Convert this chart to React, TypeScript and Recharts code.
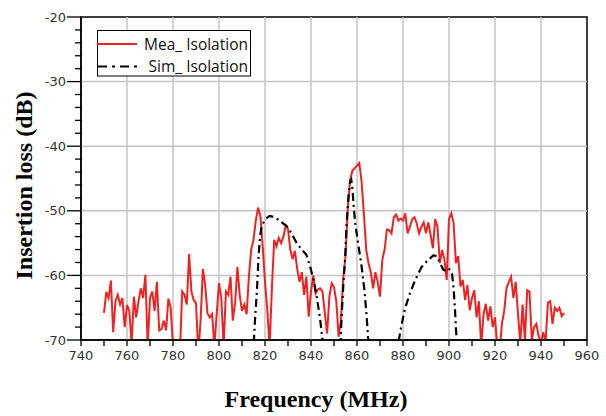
import React from 'react';
import { LineChart, Line, XAxis, YAxis, Legend, Label, ReferenceLine, ReferenceArea } from 'recharts';

// Measured isolation, sampled every 1 MHz from 750 MHz
const MEA_START = 750;
const MEA_STEP = 1;
const meaValues: number[] = [
  -65.8, -62.6, -63.5, -60.8, -68.8, -64, -63, -64.5, -63.5, -68,
  -64.6, -65.5, -70.5, -63.3, -66.5, -64, -62, -63.5, -59.9, -71,
  -63.5, -62.5, -65.5, -61, -68.5, -68.3, -67, -68.5, -63.6, -65,
  -71, -73, -73, -72, -62.5, -63, -64.5, -56.7, -62.5, -63.8,
  -64.3, -72, -67, -59, -61.5, -65.9, -66.5, -66, -71, -66,
  -61.2, -63.5, -71, -62.5, -63, -60.2, -67, -64.3, -58.7, -63,
  -65.5, -64.5, -66, -60.2, -56, -54.5, -51.5, -49.5, -50.8, -55.5,
  -61, -65.3, -71, -62, -54.5, -55.5, -54.2, -55, -54, -52.3,
  -52.8, -56, -57.5, -56.2, -59, -61, -59.5, -63, -60.2, -66.4,
  -62.5, -60, -62.8, -62.2, -62, -62.5, -65.8, -69, -63.3, -61.2,
  -61.8, -64, -69.5, -67, -60.5, -57, -49.5, -45.2, -43.8, -43.4,
  -43, -42.6, -45.5, -50.5, -56, -58.1, -59.5, -62, -59.5, -61,
  -63.3, -57.6, -56, -52.9, -53, -53.5, -51, -50.6, -51.5, -51.2,
  -51.5, -50.4, -53.5, -52.5, -51.3, -51, -52, -53.5, -52.5, -51.8,
  -53.5, -51.8, -53.7, -55.8, -51.3, -52.5, -58.1, -56.1, -57.5, -60.7,
  -51.3, -50.4, -51.9, -58.1, -57, -61.7, -60.7, -63.8, -61.5, -65.4,
  -63.5, -62.3, -66.5, -64, -71, -66, -64.4, -67, -64.8, -68,
  -66.5, -71, -72, -67.5, -65.5, -62, -61, -60.2, -63.5, -61,
  -66, -70.5, -64.5, -70, -62.3, -62.5, -70, -68, -67.5, -69.5,
  -70.5, -68.8, -70.3, -64.2, -64, -67.5, -65, -65.5, -65, -66.3,
  -65.8,
];

// Simulated isolation (three lobes, dropping below the plot between them)
const simFreq: number[] = [
  814.6, 815.2, 815.7, 816.5, 817.2, 817.9, 818.6, 820.1, 822, 824.4, 827.3, 829.5, 831.7, 833.8, 836, 838, 839.6, 841.1, 842.5, 844, 845, 845.6,
  852.6, 852.9, 853.4, 854.1, 854.8, 855.5, 856.3, 857, 857.5, 858, 858.6, 859.3, 860.6, 862, 863.3, 864.2, 864.9, 865.5,
  877.6, 878.2, 879.4, 880.8, 883, 885.2, 888.1, 891, 893.2, 894.6, 896, 897.5, 898.6, 899.7, 900.6, 901.3, 901.9, 902.6, 903.3, 903.6,
];
const simValues: number[] = [
  -76, -70, -66.6, -62.3, -57.1, -53.8, -52.3, -51.3, -50.8, -51, -51.8, -52.4, -53.6, -55, -56, -56.8, -58.6, -60.7, -63.3, -66.9, -70, -76,
  -76, -70, -65.8, -61.2, -57.6, -52, -47.8, -45.5, -45.2, -46.5, -49.5, -52.2, -55.3, -58.6, -62.5, -66.4, -70, -76,
  -76, -70, -67.6, -65.2, -62.8, -60.8, -58.7, -57.6, -56.9, -57, -58, -59.1, -59.3, -58.9, -59.2, -59.8, -61.5, -65.3, -70, -76,
];

const xTicks = [740, 750, 760, 770, 780, 790, 800, 810, 820, 830, 840, 850, 860, 870, 880, 890, 900, 910, 920, 930, 940, 950, 960];
const xMajorTicks = [740, 760, 780, 800, 820, 840, 860, 880, 900, 920, 940, 960];
const yTicks = [-70, -68, -66, -64, -62, -60, -58, -56, -54, -52, -50, -48, -46, -44, -42, -40, -38, -36, -34, -32, -30, -28, -26, -24, -22, -20];
const yMajorTicks = [-70, -60, -50, -40, -30, -20];
const gridX = [760, 780, 800, 820, 840, 860, 880, 900, 920, 940];
const gridY = [-60, -50, -40, -30];

const meaData = meaValues.map((v, i) => ({ f: MEA_START + i * MEA_STEP, v }));
const simData = simFreq.map((f, i) => ({ f, v: simValues[i] }));

const TICK_FONT = 'DejaVu Sans';

const XTick = (props: any) => {
  const { x, y, payload } = props;
  const v = payload.value;
  const major = xMajorTicks.includes(v);
  return (
    <g>
      <line x1={x} x2={x} y1={y} y2={y + 6} stroke="#000" strokeWidth={1.3} />
      {major && (
        <text x={x} y={y + 20} textAnchor="middle" fontFamily={TICK_FONT} fontSize={13} fill="#333">
          {v}
        </text>
      )}
    </g>
  );
};

const YTick = (props: any) => {
  const { x, y, payload } = props;
  const v = payload.value;
  const major = yMajorTicks.includes(v);
  return (
    <g>
      <line x1={x - (major ? 14 : 6)} x2={x} y1={y} y2={y} stroke="#000" strokeWidth={1.3} />
      {major && (
        <text x={x - 15} y={y} dy="0.36em" textAnchor="end" fontFamily={TICK_FONT} fontSize={13} fill="#333">
          {v}
        </text>
      )}
    </g>
  );
};

const XTitle = (props: any) => {
  const vb = props.viewBox || {};
  return (
    <text x={vb.x + vb.width / 2 - 18} y={407} textAnchor="middle" fontFamily="Liberation Serif" fontWeight="bold" fontSize={24} fill="#000">
      Frequency (MHz)
    </text>
  );
};

const YTitle = (props: any) => {
  const vb = props.viewBox || {};
  const cx = 24;
  const cy = vb.y + vb.height / 2 + 7;
  return (
    <text x={cx} y={cy} transform={`rotate(-90 ${cx} ${cy})`} textAnchor="middle" dominantBaseline="central" fontFamily="Liberation Serif" fontWeight="bold" fontSize={24} fill="#000">
      Insertion loss (dB)
    </text>
  );
};

const LegendBox = () => (
  <svg width={155} height={47} style={{ display: 'block' }}>
    <rect x={0.5} y={0.5} width={153} height={45.5} fill="#fff" stroke="#000" strokeWidth={1} />
    <line x1={0} x2={40} y1={14} y2={14} stroke="#ee2222" strokeWidth={2} />
    <text x={151} y={19.5} textAnchor="end" fontFamily="Open Sans" fontSize={15.5} fill="#111">
      Mea_ Isolation
    </text>
    <line x1={1} x2={40} y1={36.5} y2={36.5} stroke="#000" strokeWidth={2} strokeDasharray="9 5 3 5" />
    <text x={151} y={42} textAnchor="end" fontFamily="Open Sans" fontSize={15.5} fill="#111">
      Sim_ Isolation
    </text>
  </svg>
);

export default function App() {
  return (
    <div style={{ position: 'absolute', left: 0, top: 0, width: 606, height: 416, background: '#fff' }}>
      <LineChart width={606} height={416} margin={{ top: 17, right: 19, bottom: 0, left: 0 }}>
        <XAxis
          dataKey="f"
          type="number"
          domain={[740, 960]}
          allowDataOverflow
          ticks={xTicks}
          interval={0}
          tickSize={0}
          tickMargin={0}
          tickLine={false}
          tick={<XTick />}
          height={76}
          axisLine={{ stroke: '#000', strokeWidth: 1.5 }}
        >
          <Label content={<XTitle />} />
        </XAxis>
        <YAxis
          type="number"
          domain={[-70, -20]}
          allowDataOverflow
          ticks={yTicks}
          interval={0}
          tickSize={0}
          tickMargin={0}
          tickLine={false}
          tick={<YTick />}
          width={81}
          axisLine={{ stroke: '#000', strokeWidth: 1.5 }}
        >
          <Label content={<YTitle />} />
        </YAxis>
        {gridX.map((g) => (
          <ReferenceLine key={'gx' + g} x={g} stroke="#c4c4c4" strokeWidth={1.5} />
        ))}
        {gridY.map((g) => (
          <ReferenceLine key={'gy' + g} y={g} stroke="#c4c4c4" strokeWidth={1.5} />
        ))}
        <Line
          data={meaData}
          dataKey="v"
          type="linear"
          stroke="#ee2222"
          strokeWidth={2}
          dot={false}
          activeDot={false}
          isAnimationActive={false}
        />
        <Line
          data={simData}
          dataKey="v"
          type="linear"
          stroke="#000"
          strokeWidth={2.2}
          strokeDasharray="8 4 2 4"
          dot={false}
          activeDot={false}
          isAnimationActive={false}
        />
        <ReferenceArea x1={740} x2={960} y1={-70} y2={-20} fill="none" fillOpacity={0} stroke="#000" strokeWidth={1.5} />
        <Legend
          layout="vertical"
          verticalAlign="middle"
          align="center"
          content={<LegendBox />}
          wrapperStyle={{ left: 97, top: 30, width: 155, height: 47 }}
        />
      </LineChart>
    </div>
  );
}
